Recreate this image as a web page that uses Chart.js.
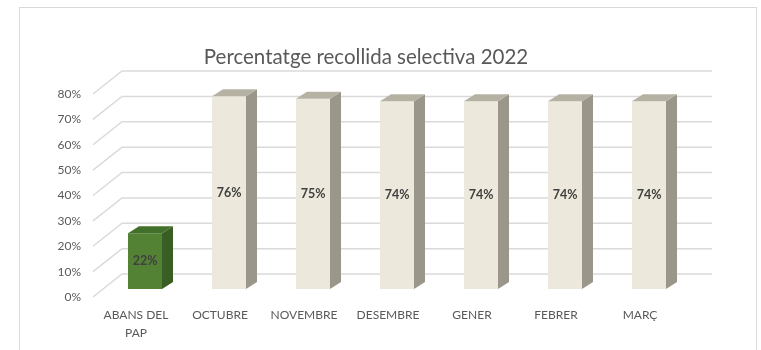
<!DOCTYPE html>
<html>
<head>
<meta charset="utf-8">
<script src="https://cdn.jsdelivr.net/npm/chart.js@4"></script>
<style>
  body { margin: 0; background: #fff; }
  canvas { display: block; }
</style>
</head>
<body>
<canvas id="myChart" width="761" height="350"></canvas>
<script>
// chart data
const categories = [["ABANS DEL", "PAP"], "OCTUBRE", "NOVEMBRE", "DESEMBRE", "GENER", "FEBRER", "MARÇ"];
const percentages = [22, 76, 75, 74, 74, 74, 74];
const yTicks = [0, 10, 20, 30, 40, 50, 60, 70, 80];

// 3d look: bar depth, and the offsets of the back wall / front labels
const bar3d = { dx: 11, dy: -7 };
const wall = { dx: 19, dy: -15 };
const front = { dx: -10, dy: 8 };

const faceColor = (i) => i === 0 ? "#538234" : "#ECE9DC";
const sideColor = (i) => i === 0 ? "#385E23" : "#9A978A";
const topColor = (i) => i === 0 ? "#42702A" : "#B6B2A3";

const gridColor = "#DADADA";
const textColor = "#595959";

const threeD = {
  id: "threeD",
  beforeDraw(chart) {
    const c = chart.ctx;
    c.save();
    c.strokeStyle = "#D9D9D9";
    c.lineWidth = 1;
    c.strokeRect(19.5, 7.5, 737, 360);
    c.restore();
  },
  beforeDatasetsDraw(chart) {
    const c = chart.ctx;
    const area = chart.chartArea;
    const yScale = chart.scales.y;
    c.save();
    c.strokeStyle = gridColor;
    c.lineWidth = 1.5;
    yTicks.forEach((v) => {
      const py = yScale.getPixelForValue(v);
      c.beginPath();
      c.moveTo(area.left + front.dx, py + front.dy);
      c.lineTo(area.left + wall.dx, py + wall.dy);
      c.lineTo(area.right + wall.dx + 2, py + wall.dy);
      c.stroke();
    });
    c.restore();
  },
  afterDatasetsDraw(chart) {
    const c = chart.ctx;
    const meta = chart.getDatasetMeta(0);
    c.save();
    meta.data.forEach((bar, i) => {
      const { x, y, base, width } = bar.getProps(["x", "y", "base", "width"], true);
      const l = x - width / 2;
      const r = x + width / 2;
      // side
      c.fillStyle = sideColor(i);
      c.beginPath();
      c.moveTo(r, y);
      c.lineTo(r + bar3d.dx, y + bar3d.dy);
      c.lineTo(r + bar3d.dx, base + bar3d.dy);
      c.lineTo(r, base);
      c.closePath();
      c.fill();
      // top
      c.fillStyle = topColor(i);
      c.beginPath();
      c.moveTo(l, y);
      c.lineTo(l + bar3d.dx, y + bar3d.dy);
      c.lineTo(r + bar3d.dx, y + bar3d.dy);
      c.lineTo(r, y);
      c.closePath();
      c.fill();
      // value label
      c.fillStyle = "#404040";
      c.font = "bold 12.5px Lato";
      c.textAlign = "center";
      c.textBaseline = "middle";
      c.fillText(percentages[i] + "%", x, (y + base) / 2);
    });
    c.restore();
  }
};

new Chart(document.getElementById("myChart"), {
  type: "bar",
  data: {
    labels: categories,
    datasets: [{
      data: percentages,
      backgroundColor: percentages.map((v, i) => faceColor(i)),
      borderWidth: 0,
      barPercentage: 0.405,
      categoryPercentage: 1
    }]
  },
  options: {
    responsive: false,
    animation: false,
    layout: { padding: { left: 41, right: 70, top: 0, bottom: 0 } },
    plugins: {
      legend: { display: false },
      tooltip: { enabled: false },
      title: {
        display: true,
        text: "Percentatge recollida selectiva 2022",
        color: textColor,
        font: { family: "Lato", size: 20.5, weight: "normal", lineHeight: 1.2 },
        padding: { top: 45, bottom: 16.4 }
      }
    },
    scales: {
      x: {
        grid: { display: false, drawTicks: false },
        border: { display: false },
        ticks: {
          color: textColor,
          font: { family: "Lato", size: 12, lineHeight: 1.5 },
          padding: 17,
          labelOffset: -9,
          maxRotation: 0,
          autoSkip: false
        },
        afterFit(scale) { scale.height = 61; }
      },
      y: {
        min: 0,
        max: 80,
        grid: { display: false, drawTicks: false },
        border: { display: false },
        ticks: {
          stepSize: 10,
          color: textColor,
          font: { family: "Lato", size: 12 },
          padding: 22,
          labelOffset: 8,
          callback: (v) => v + "%"
        },
        afterFit(scale) { scale.width = 62; }
      }
    }
  },
  plugins: [threeD]
});
</script>
</body>
</html>
